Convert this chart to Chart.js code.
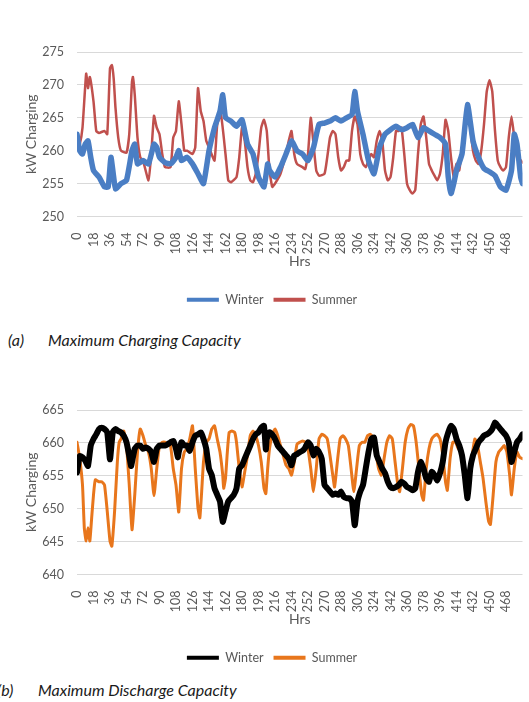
<!DOCTYPE html>
<html>
<head>
<meta charset="utf-8">
<script src="https://cdn.jsdelivr.net/npm/chart.js@4.4.1/dist/chart.umd.min.js"></script>
<style>
  body { margin: 0; background: #fff; width: 529px; height: 702px; overflow: hidden; position: relative; font-family: Lato, sans-serif; }
  .box { position: absolute; left: 0; width: 529px; height: 286px; }
  .cap { position: absolute; font-style: italic; font-size: 16px; color: #1a1a1a; white-space: nowrap; line-height: 18px; }
</style>
</head>
<body>
<div class="box" style="top:30px"><canvas id="chartA" width="529" height="286"></canvas></div>
<div class="box" style="top:388px"><canvas id="chartB" width="529" height="286"></canvas></div>
<div class="cap" style="left:8px;top:331px">(a)</div>
<div class="cap" style="left:48px;top:331px">Maximum Charging Capacity</div>
<div class="cap" style="left:-3px;top:681px">(b)</div>
<div class="cap" style="left:38px;top:681px">Maximum Discharge Capacity</div>
<script>
// Chart defaults
Chart.defaults.font.family = 'Lato, sans-serif';
Chart.defaults.color = '#595959';

// x axis tick labels (hours)
const hourTicks = [0, 18, 36, 54, 72, 90, 108, 126, 144, 162, 180, 198, 216, 234, 252, 270, 288, 306, 324, 342, 360, 378, 396, 414, 432, 450, 468];
const ticksA = [250, 255, 260, 265, 270, 275];
const ticksB = [640, 645, 650, 655, 660, 665];

// (a) Maximum Charging Capacity - Winter
const winterHrsA = [0, 3, 6, 9, 12, 15, 18, 24, 30, 34, 37, 40, 42, 48, 54, 60, 63, 66, 72, 78, 84, 87, 90, 96, 102, 108, 111, 114, 120, 126, 132, 138, 144, 150, 156, 159, 162, 168, 174, 180, 186, 192, 198, 204, 208, 210, 216, 222, 228, 234, 240, 246, 252, 258, 264, 270, 276, 282, 288, 294, 300, 303, 306, 312, 318, 324, 330, 336, 342, 348, 354, 360, 366, 372, 378, 384, 390, 396, 402, 405, 408, 411, 414, 420, 426, 432, 438, 444, 450, 456, 462, 468, 474, 477, 480, 484, 486];
const winterA = [262.5, 260, 259.5, 261, 261.5, 259, 257, 256, 254.5, 254.5, 259, 256, 254.2, 255, 255.5, 260, 261, 258, 258.5, 258, 261, 260.5, 259, 258.2, 258, 259, 260, 258.5, 259, 258, 256.5, 255, 260, 263.5, 266, 268.5, 265, 264.5, 263.7, 264.7, 261, 259.5, 256, 254.5, 258, 257, 256, 257.5, 259.5, 261.5, 260, 259.5, 258.5, 260.5, 264, 264.2, 264.5, 265, 264.5, 265, 265.5, 269, 266, 262.5, 258.5, 256.5, 260.5, 262.5, 263.2, 263.7, 263.2, 263.5, 264, 262, 263.5, 263, 262.5, 262, 261, 256, 253.5, 255, 257, 259.5, 267, 261.5, 259, 257.3, 256.8, 256.2, 254.5, 254, 257, 262.5, 261, 256, 255];

// (a) Maximum Charging Capacity - Summer
const summerHrsA = [0, 3, 6, 10, 12, 14, 18, 21, 24, 30, 33, 36, 38, 40, 42, 45, 48, 54, 57, 60, 61, 63, 66, 69, 72, 78, 81, 84, 87, 90, 93, 96, 102, 105, 108, 111, 114, 117, 120, 126, 129, 132, 135, 138, 141, 144, 150, 153, 157, 162, 165, 168, 174, 177, 180, 183, 186, 189, 192, 195, 198, 201, 204, 207, 210, 213, 216, 222, 228, 231, 234, 237, 240, 246, 249, 252, 255, 258, 261, 264, 270, 273, 276, 279, 282, 285, 288, 291, 294, 297, 300, 303, 306, 309, 312, 315, 318, 321, 324, 327, 330, 333, 336, 339, 342, 345, 348, 351, 354, 357, 360, 363, 366, 369, 372, 375, 378, 381, 384, 387, 390, 393, 396, 399, 402, 405, 408, 411, 414, 417, 420, 423, 426, 429, 432, 435, 438, 441, 444, 447, 450, 453, 456, 459, 462, 465, 468, 471, 474, 477, 480, 483, 486];
const summerA = [260.5, 261, 263.5, 271.7, 269.5, 271.2, 267.5, 263, 262.7, 263, 262.5, 272.5, 273, 271, 266.5, 262, 260, 259.7, 262.5, 270.5, 271.2, 268.5, 262, 259, 258.5, 255.5, 259.5, 265.3, 263.5, 262.5, 259.5, 257.5, 257.5, 262, 263, 267.5, 264, 260, 260, 259.5, 260.5, 269.5, 266, 264.5, 261.5, 260.5, 258.5, 264, 265.5, 259.5, 255.5, 255.2, 256, 259, 263.5, 261.5, 257.5, 255.5, 255.2, 256.5, 259.5, 263.5, 264.7, 263, 257, 254.5, 255, 256.5, 259.5, 261.5, 263, 259.5, 258, 257.5, 257.2, 259.5, 265, 261, 257, 256.2, 256.5, 259, 262, 263, 262.5, 259, 257, 257.5, 258.5, 258.5, 263, 265.2, 264, 259.5, 258, 257.5, 258.5, 259.5, 259, 261.5, 263, 261.5, 257, 255.5, 256, 259, 263, 263, 263.5, 259.5, 255, 254, 253.5, 254, 259.5, 264, 265.2, 262, 258, 257, 256.2, 255.5, 256.5, 259.5, 264.7, 263, 259, 256, 258, 257, 260.5, 262.5, 266.5, 263.5, 260, 258.5, 258, 260, 264, 269, 270.7, 269, 263, 258.5, 257.5, 257, 257.5, 262, 265.2, 262, 259, 258.7, 258.2];

// (b) Maximum Discharge Capacity - Winter
const winterHrsB = [0, 3, 6, 9, 12, 15, 18, 21, 24, 27, 30, 33, 36, 39, 42, 45, 48, 51, 54, 57, 59, 60, 63, 66, 69, 72, 75, 78, 81, 84, 87, 90, 96, 99, 102, 105, 108, 110, 111, 114, 117, 120, 123, 126, 129, 132, 135, 138, 141, 144, 147, 150, 153, 156, 159, 162, 165, 168, 171, 174, 177, 180, 183, 186, 189, 192, 195, 198, 201, 204, 206, 207, 210, 213, 216, 219, 222, 225, 228, 231, 234, 237, 240, 243, 246, 249, 252, 255, 258, 261, 264, 267, 270, 273, 276, 279, 282, 285, 288, 291, 294, 297, 300, 303, 306, 309, 312, 315, 318, 321, 324, 327, 330, 333, 336, 339, 342, 345, 348, 351, 354, 357, 360, 363, 366, 369, 372, 375, 378, 381, 384, 387, 390, 393, 396, 399, 402, 405, 408, 411, 414, 417, 420, 423, 426, 429, 432, 435, 438, 441, 444, 447, 450, 453, 456, 459, 462, 465, 468, 471, 474, 477, 480, 483, 486];
const winterB = [655.5, 658, 657.8, 657.3, 656.5, 659.6, 660.6, 661.3, 662.1, 662.3, 662.1, 661.6, 657.5, 661.6, 662.1, 661.8, 661.6, 661.1, 660.1, 658, 656.5, 657.1, 659.1, 659.6, 659.6, 659.1, 659.3, 659.1, 658.6, 657.1, 659.1, 659.6, 659.6, 659.8, 660.1, 660.3, 659.1, 657.8, 658.6, 660.1, 659.6, 659.6, 658.8, 660.1, 661.1, 661.3, 661.6, 660.6, 659.1, 656.1, 655.1, 653.1, 652.1, 651.1, 648, 649.6, 651.1, 651.6, 652.1, 653.1, 656.1, 656.6, 657.6, 658.6, 659.6, 660.6, 661.3, 661.6, 662.3, 662.6, 659, 660.6, 661.6, 661.3, 660.6, 659.6, 659.1, 658.6, 658.1, 657.6, 656.6, 658.1, 658.3, 658.6, 658.8, 659.3, 660.1, 659.6, 658.1, 659.1, 658.6, 657.6, 653.6, 653.1, 652.6, 652.1, 652.3, 652.1, 652.6, 651.8, 651.6, 651.6, 651.1, 647.5, 651.1, 652.6, 653.6, 656.1, 658.6, 660.6, 660.8, 658.1, 657.1, 656.1, 655.4, 654.1, 653.3, 653.1, 653.3, 653.6, 654.1, 653.8, 653.3, 653.1, 652.8, 653.1, 655.6, 657.1, 656.1, 654.6, 654.1, 655.6, 655.1, 654.3, 655.4, 657.1, 660.1, 661.6, 662.6, 662.1, 660.6, 659.6, 658.1, 655.1, 651.6, 656.1, 658.1, 659.1, 660.1, 660.6, 661.1, 661.3, 661.6, 662.1, 663.1, 662.6, 662.1, 661.6, 661.1, 660.1, 657.1, 658.6, 660.1, 660.6, 661.3];

// (b) Maximum Discharge Capacity - Summer
const summerHrsB = [0, 3, 6, 8, 10, 12, 14, 16, 18, 20, 24, 27, 30, 33, 36, 38, 41, 44, 46, 48, 51, 54, 57, 60, 63, 66, 69, 72, 75, 78, 81, 84, 87, 90, 93, 96, 99, 102, 105, 108, 111, 114, 117, 120, 123, 126, 129, 132, 134, 136, 138, 141, 144, 147, 150, 153, 156, 159, 160, 162, 164, 166, 169, 172, 174, 177, 180, 183, 186, 189, 192, 195, 198, 201, 204, 206, 208, 210, 213, 216, 219, 222, 225, 228, 231, 234, 237, 240, 243, 246, 249, 252, 255, 258, 261, 264, 267, 270, 273, 276, 279, 281, 284, 287, 290, 293, 296, 299, 302, 305, 308, 311, 314, 317, 320, 323, 326, 329, 332, 335, 338, 341, 344, 347, 350, 352, 355, 358, 361, 364, 367, 370, 373, 376, 378, 381, 384, 387, 390, 393, 396, 399, 402, 404, 407, 410, 413, 416, 419, 422, 425, 428, 431, 434, 437, 440, 443, 446, 449, 451, 454, 457, 460, 463, 466, 469, 472, 474, 477, 480, 483, 486];
const summerB = [660.1, 657.6, 653.6, 647, 645.1, 647.1, 645.1, 648.6, 652.1, 654.4, 654.1, 654.1, 653.6, 649.6, 645.1, 644.3, 649.6, 657.1, 660.1, 660.6, 661.8, 659.6, 653.6, 646.8, 652.1, 658.6, 662.1, 661.1, 659.6, 658.6, 656.1, 652, 656.1, 659.6, 660.1, 660.1, 659.8, 659.6, 656.1, 653.6, 649.5, 656.1, 658.6, 659.1, 660.6, 662.6, 656.1, 650.1, 648.6, 652.6, 657.1, 660.1, 660.6, 662.1, 662.6, 660.6, 658.6, 655.1, 653.1, 654.6, 658.6, 661.6, 661.8, 661.6, 660.1, 656.1, 653.3, 655.6, 658.1, 661.1, 661.8, 661.1, 659.6, 657.1, 653.1, 652.3, 656.1, 659.1, 661.3, 662.1, 661.1, 659.6, 658.1, 656.6, 656.1, 655.1, 657.1, 659.8, 660.1, 660.3, 660.1, 659.1, 656.1, 652.6, 656.1, 660.6, 661.3, 661.1, 660.6, 658.1, 655.1, 653.3, 657.1, 660.6, 661.1, 660.6, 659.6, 656.1, 652.6, 656.1, 659.6, 660.1, 660.1, 661.1, 661.3, 660.8, 658.6, 656.1, 655.1, 657.6, 660.1, 661.1, 660.6, 657.1, 653.6, 652.6, 656.1, 660.1, 662.1, 662.8, 662.6, 660.1, 656.1, 652.1, 651.3, 656.1, 659.1, 660.6, 661.1, 661.3, 660.6, 658.1, 654.1, 652.8, 657.6, 660.1, 660.1, 659.1, 658.6, 656.6, 652.6, 655.6, 658.1, 660.6, 659.6, 657.1, 654.6, 651.1, 648.1, 647.6, 652.1, 657.1, 658.6, 659.1, 659.6, 658.6, 655.1, 652.1, 656.1, 658.6, 657.8, 657.6];

const toPoints = (hrs, vals) => hrs.map((h, i) => ({ x: h, y: vals[i] }));

const lineSet = (label, hrs, vals, color, width) => ({
    label,
    data: toPoints(hrs, vals),
    borderColor: color,
    backgroundColor: color,
    borderWidth: width,
    pointRadius: 0,
    tension: 0.15,
    borderJoinStyle: 'round',
    borderCapStyle: 'round'
});

const renderChart = (ctx, datasets, yTicks) => new Chart(ctx, {
    type: 'line',
    data: { datasets },
    options: {
        responsive: false,
        animation: false,
        layout: { padding: { top: 22, left: 15, right: 0, bottom: 0 } },
        plugins: {
            tooltip: { enabled: false },
            legend: {
                position: 'bottom',
                labels: {
                    boxWidth: 32, boxHeight: 4, padding: 10,
                    font: { size: 12.5 }, color: '#595959',
                    generateLabels: (chart) => Chart.defaults.plugins.legend.labels.generateLabels(chart)
                        .map(l => Object.assign(l, { lineWidth: 0 }))
                }
            }
        },
        scales: {
            x: {
                type: 'linear', min: 0, max: 486,
                afterBuildTicks: s => { s.ticks = hourTicks.map(v => ({ value: v })); },
                afterFit: s => { s.height = 67; },
                grid: { display: false },
                border: { display: false },
                ticks: { autoSkip: false, maxRotation: 90, minRotation: 90, padding: 8, font: { size: 12.5 }, color: '#595959' },
                title: { display: true, text: 'Hrs', font: { size: 14 }, color: '#595959', padding: { top: 0, bottom: 14 } }
            },
            y: {
                min: yTicks[0], max: yTicks[yTicks.length - 1],
                afterBuildTicks: s => { s.ticks = yTicks.map(v => ({ value: v })); },
                afterFit: s => { s.width = 62; },
                grid: { color: '#d9d9d9', drawTicks: false },
                border: { display: false },
                ticks: { padding: 13, font: { size: 12.5 }, color: '#595959' },
                title: { display: true, text: 'kW Charging', font: { size: 14 }, color: '#595959', padding: { top: 8, bottom: 0 } }
            }
        }
    }
});

renderChart(document.getElementById('chartA'), [
    lineSet('Winter', winterHrsA, winterA, '#4a7ec4', 5.5),
    lineSet('Summer', summerHrsA, summerA, '#c0504d', 2.5)
], ticksA);

renderChart(document.getElementById('chartB'), [
    lineSet('Winter', winterHrsB, winterB, '#000000', 6),
    lineSet('Summer', summerHrsB, summerB, '#e8761c', 3)
], ticksB);
</script>
</body>
</html>
